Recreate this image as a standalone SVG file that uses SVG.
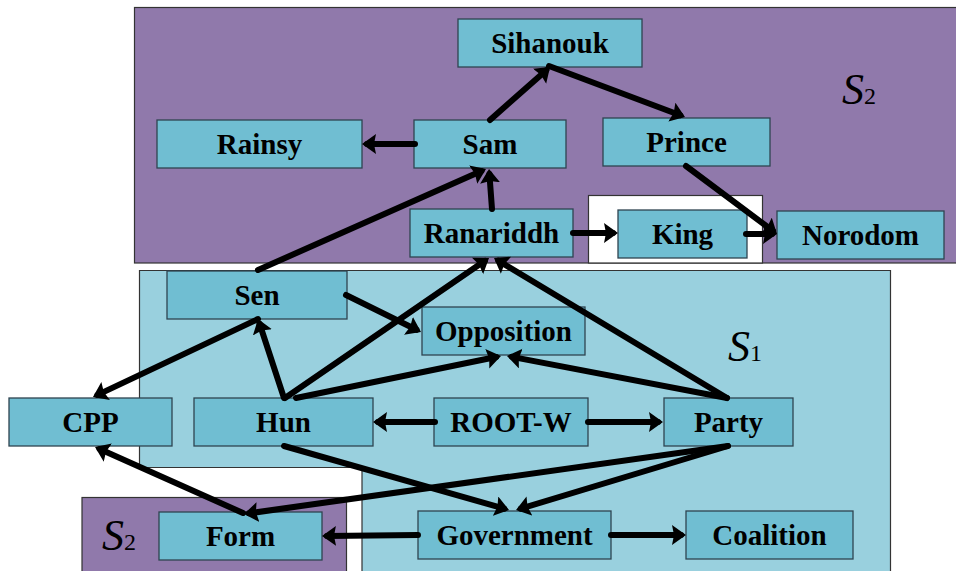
<svg xmlns="http://www.w3.org/2000/svg" width="956" height="571" viewBox="0 0 956 571">
<style>
.reg{stroke:#333;stroke-width:1.2}
.p{fill:#9079AB}
.b{fill:#99D0DE}
.n rect{fill:#70BED2;stroke:#2E4450;stroke-width:1.3}
.n text{font-family:"Liberation Serif","Times New Roman",serif;font-weight:bold;font-size:29px;text-anchor:middle;fill:#000}
.e line{stroke:#000;stroke-width:6;stroke-linecap:round}
.s{font-family:"Liberation Serif","Times New Roman",serif;fill:#000}
</style>
<defs>
<marker id="a" markerUnits="userSpaceOnUse" markerWidth="15" markerHeight="21" refX="9" refY="10" orient="auto">
<path d="M0,0 L14,10 L0,20 L2,10 z" fill="#000"/>
</marker>
</defs>
<rect width="956" height="571" fill="#fff"/>
<g id="regions">
<rect class="reg p" x="134.5" y="7.5" width="830" height="255.5"/>
<rect class="reg" x="588.5" y="195.5" width="174" height="67.5" fill="#fff"/>
<path class="reg b" d="M139.5,270.5 H890.5 V575 H362 V467.5 H139.5 Z"/>
<rect class="reg p" x="82" y="497.5" width="264.5" height="80"/>
<text class="s" x="842" y="104"><tspan font-style="italic" font-size="44">S</tspan><tspan font-size="24">2</tspan></text>
<text class="s" x="728" y="361"><tspan font-style="italic" font-size="44">S</tspan><tspan font-size="24">1</tspan></text>
<text class="s" x="102" y="550"><tspan font-style="italic" font-size="44">S</tspan><tspan font-size="24">2</tspan></text>
</g>
<g id="Sihanouk" class="n"><rect x="458" y="19" width="184" height="48"/><text x="550" y="53">Sihanouk</text></g>
<g id="Rainsy" class="n"><rect x="157" y="120" width="205" height="48"/><text x="259.5" y="154">Rainsy</text></g>
<g id="Sam" class="n"><rect x="414" y="120" width="152" height="48"/><text x="490" y="154">Sam</text></g>
<g id="Prince" class="n"><rect x="603" y="118" width="167" height="48"/><text x="686.5" y="152">Prince</text></g>
<g id="Ranariddh" class="n"><rect x="410" y="209" width="163" height="48"/><text x="491.5" y="243">Ranariddh</text></g>
<g id="King" class="n"><rect x="618" y="210" width="129" height="48"/><text x="682.5" y="244">King</text></g>
<g id="Norodom" class="n"><rect x="777" y="211" width="167" height="48"/><text x="860.5" y="245">Norodom</text></g>
<g id="Sen" class="n"><rect x="167" y="271" width="180" height="48"/><text x="257" y="305">Sen</text></g>
<g id="Opposition" class="n"><rect x="422" y="307" width="163" height="48"/><text x="503.5" y="341">Opposition</text></g>
<g id="CPP" class="n"><rect x="9" y="398" width="163" height="48"/><text x="90.5" y="432">CPP</text></g>
<g id="Hun" class="n"><rect x="194" y="398" width="179" height="48"/><text x="283.5" y="432">Hun</text></g>
<g id="ROOT-W" class="n"><rect x="434" y="398" width="154" height="48"/><text x="511" y="432">ROOT-W</text></g>
<g id="Party" class="n"><rect x="664" y="398" width="129" height="48"/><text x="728.5" y="432">Party</text></g>
<g id="Form" class="n"><rect x="159" y="512" width="163" height="48"/><text x="240.5" y="546">Form</text></g>
<g id="Government" class="n"><rect x="418" y="511" width="193" height="48"/><text x="514.5" y="545">Government</text></g>
<g id="Coalition" class="n"><rect x="686" y="511" width="167" height="48"/><text x="769.5" y="545">Coalition</text></g>
<g id="connectors" class="e" marker-end="url(#a)">
<line x1="490" y1="120" x2="546.3" y2="70.3"/>
<line x1="549" y1="66" x2="680.3" y2="115.2"/>
<line x1="415" y1="144" x2="367" y2="144"/>
<line x1="492" y1="209" x2="489.4" y2="174"/>
<line x1="258" y1="270" x2="481.4" y2="171"/>
<line x1="686" y1="166" x2="773" y2="231"/>
<line x1="573" y1="233" x2="613" y2="233"/>
<line x1="746" y1="234" x2="772" y2="234"/>
<line x1="285" y1="398" x2="484.9" y2="260.8"/>
<line x1="727" y1="398" x2="498.3" y2="260.6"/>
<line x1="346" y1="295" x2="416.5" y2="329.8"/>
<line x1="284" y1="398" x2="259.6" y2="323.8"/>
<line x1="258" y1="319" x2="97.5" y2="394.9"/>
<line x1="296" y1="398" x2="496.1" y2="357"/>
<line x1="727" y1="398" x2="511.9" y2="356.9"/>
<line x1="435" y1="422" x2="378" y2="422"/>
<line x1="588" y1="422" x2="658" y2="422"/>
<line x1="284" y1="446" x2="504.2" y2="508.6"/>
<line x1="728" y1="446" x2="520.8" y2="508.6"/>
<line x1="728" y1="446" x2="249" y2="513.3"/>
<line x1="243" y1="513" x2="99.6" y2="449"/>
<line x1="418" y1="535" x2="327" y2="536"/>
<line x1="611" y1="535" x2="681" y2="535"/>
</g>
</svg>
